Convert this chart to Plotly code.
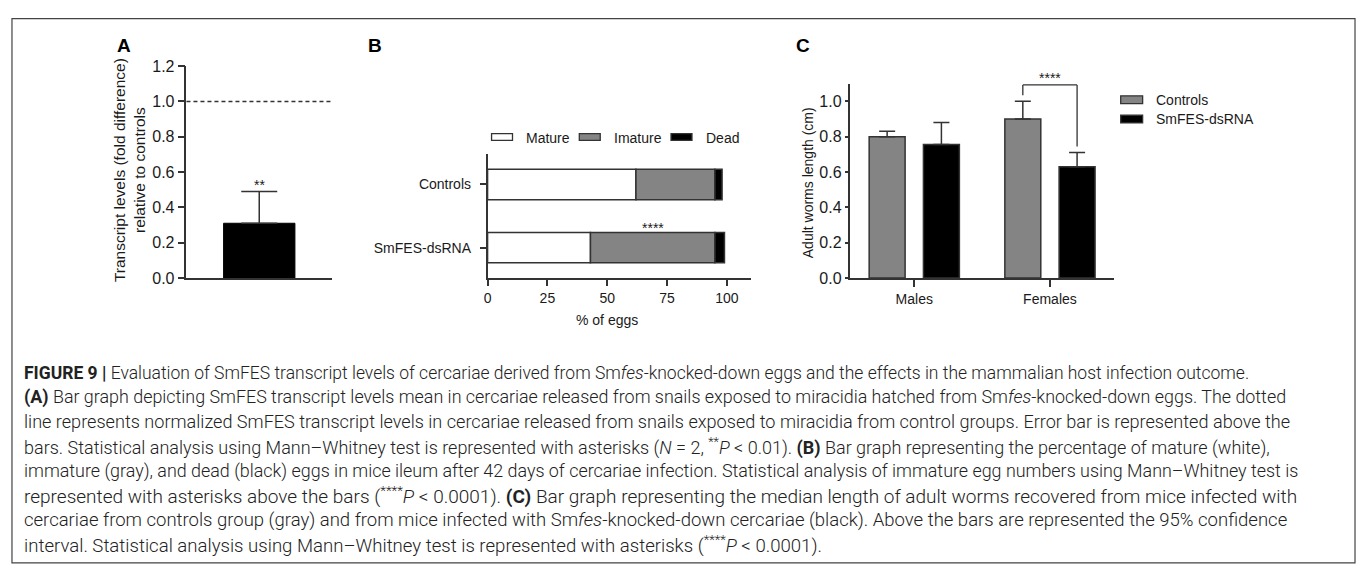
import plotly.graph_objects as go

W, H = 1358, 568


def px(x):
    return x / W


def py(y):
    return 1 - y / H


# ---------------- data ----------------
# Panel A
a_groups = ["SmFES-dsRNA"]
a_values = [0.31]
a_err = [0.18]
a_ref = 1.0
a_ticks = [0.0, 0.2, 0.4, 0.6, 0.8, 1.0, 1.2]
a_sig = "**"

# Panel B (bottom to top)
b_groups = ["SmFES-dsRNA", "Controls"]
b_series = ["Mature", "Imature", "Dead"]
b_mature = [43, 62]
b_imature = [52, 33]
b_dead = [4, 3]
b_ticks = [0, 25, 50, 75, 100]
b_sig = "****"

# Panel C
c_groups = ["Males", "Females"]
c_series = ["Controls", "SmFES-dsRNA"]
c_controls = [0.80, 0.90]
c_controls_err = [0.03, 0.10]
c_dsrna = [0.755, 0.63]
c_dsrna_err = [0.125, 0.08]
c_ticks = [0.0, 0.2, 0.4, 0.6, 0.8, 1.0]
c_sig = "****"
c_bracket = [1.035, 1.093, 0.745]  # left leg bottom, top, right leg bottom

caption = [
    "<b>FIGURE 9 |</b> Evaluation of SmFES transcript levels of cercariae derived from Sm<i>fes</i>-knocked-down eggs and the effects in the mammalian host infection outcome.",
    "<b>(A)</b> Bar graph depicting SmFES transcript levels mean in cercariae released from snails exposed to miracidia hatched from Sm<i>fes</i>-knocked-down eggs. The dotted",
    "line represents normalized SmFES transcript levels in cercariae released from snails exposed to miracidia from control groups. Error bar is represented above the",
    "bars. Statistical analysis using Mann\u2013Whitney test is represented with asterisks (<i>N</i> = 2, <sup>**</sup><i>P</i> &lt; 0.01). <b>(B)</b> Bar graph representing the percentage of mature (white),",
    "immature (gray), and dead (black) eggs in mice ileum after 42 days of cercariae infection. Statistical analysis of immature egg numbers using Mann\u2013Whitney test is",
    "represented with asterisks above the bars (<sup>****</sup><i>P</i> &lt; 0.0001). <b>(C)</b> Bar graph representing the median length of adult worms recovered from mice infected with",
    "cercariae from controls group (gray) and from mice infected with Sm<i>fes</i>-knocked-down cercariae (black). Above the bars are represented the 95% confidence",
    "interval. Statistical analysis using Mann\u2013Whitney test is represented with asterisks (<sup>****</sup><i>P</i> &lt; 0.0001).",
]

# ---------------- styles ----------------
FONT = "Liberation Sans, Arial, sans-serif"
CAP_FONT = "Roboto, Liberation Sans, sans-serif"
CAP_SIZES = [17.5, 17.9, 18.1, 18.0, 17.9, 19.0, 18.5, 18.6]
INK = "#1a1a1a"
LINE = "#333333"
GRAY = "#848484"
B_COLORS = ["#ffffff", GRAY, "#000000"]
C_COLORS = [GRAY, "#000000"]

fig = go.Figure()

# Panel A
fig.add_trace(go.Bar(
    x=a_groups, y=a_values, width=0.49,
    marker=dict(color="#000000", line=dict(color="#000000", width=1)),
    error_y=dict(type="data", symmetric=False, array=a_err, arrayminus=[0] * len(a_err),
                 color=LINE, thickness=1.5, width=18),
    xaxis="x", yaxis="y", showlegend=False,
))

# Panel B stacked horizontal bars (explicit bases)
b_vals = [b_mature, b_imature, b_dead]
bases = [[0] * len(b_groups)]
for k in range(1, len(b_vals)):
    bases.append([bases[k - 1][i] + b_vals[k - 1][i] for i in range(len(b_groups))])
for k, name in enumerate(b_series):
    fig.add_trace(go.Bar(
        y=b_groups, x=b_vals[k], base=bases[k], orientation="h", name=name,
        width=0.48, offset=-0.24,
        marker=dict(color=B_COLORS[k], line=dict(color=LINE, width=1.5)),
        xaxis="x2", yaxis="y2", showlegend=False,
    ))

# Panel C grouped bars
for vals, errs, col, off, name in [
    (c_controls, c_controls_err, C_COLORS[0], -0.3325, c_series[0]),
    (c_dsrna, c_dsrna_err, C_COLORS[1], 0.0675, c_series[1]),
]:
    fig.add_trace(go.Bar(
        x=c_groups, y=vals, name=name, width=0.265, offset=off,
        marker=dict(color=col, line=dict(color=LINE, width=1.5)),
        error_y=dict(type="data", symmetric=False, array=errs, arrayminus=[0] * len(errs),
                     color=LINE, thickness=1.5, width=8),
        xaxis="x3", yaxis="y3", showlegend=False,
    ))


def axis_common(size):
    return dict(showline=True, linecolor=LINE, linewidth=1.5, showgrid=False, zeroline=False,
                tickcolor=LINE, tickwidth=1.5, tickfont=dict(size=size, color=INK, family=FONT),
                fixedrange=True)


fig.update_layout(
    width=W, height=H, autosize=False,
    margin=dict(l=0, r=0, t=0, b=0),
    paper_bgcolor="white", plot_bgcolor="rgba(0,0,0,0)",
    barmode="overlay",
    font=dict(family=FONT, color=INK, size=14),
    showlegend=False,
    xaxis=dict(domain=[px(183), px(329)], range=[-0.5, 0.5], anchor="y",
               showticklabels=False, ticks="", **axis_common(14)),
    yaxis=dict(domain=[py(278.3), py(60)], range=[0, 1.2], anchor="x",
               tickvals=a_ticks, tickformat=".1f", ticks="outside", ticklen=7, **axis_common(16)),
    xaxis2=dict(domain=[px(485), px(749)], range=[0, 110], anchor="y2",
                tickvals=b_ticks, ticks="outside", ticklen=6, **axis_common(14)),
    yaxis2=dict(domain=[py(278.3), py(150)], range=[-0.48, 1.49], anchor="x2",
                type="category", categoryorder="array", categoryarray=b_groups,
                ticks="outside", ticklen=6, ticklabelstandoff=6, **axis_common(14)),
    xaxis3=dict(domain=[px(849), px(1113)], range=[-0.47, 1.47], anchor="y3",
                type="category", ticks="outside", ticklen=7, **axis_common(14)),
    yaxis3=dict(domain=[py(278.3), py(78)], range=[0, 1.1], anchor="x3",
                tickvals=c_ticks, tickformat=".1f", ticks="outside", ticklen=4, **axis_common(16)),
)

shapes = []
# figure frame
shapes.append(dict(type="rect", xref="paper", yref="paper", x0=px(8), x1=px(1355), y0=py(572), y1=py(11),
                   line=dict(color="#444444", width=1.2), fillcolor="rgba(0,0,0,0)", layer="below"))
# Panel A reference dotted line
shapes.append(dict(type="line", xref="x domain", yref="y", x0=0, x1=1, y0=a_ref, y1=a_ref,
                   line=dict(color=LINE, width=1.3, dash="4px,3px")))
# Panel C significance bracket (Females: Controls vs SmFES-dsRNA)
xl, xr = 1 - 0.2, 1 + 0.2
shapes += [
    dict(type="line", xref="x3", yref="y3", x0=xl, x1=xl, y0=c_bracket[0], y1=c_bracket[1], line=dict(color=LINE, width=1.3)),
    dict(type="line", xref="x3", yref="y3", x0=xl, x1=xr, y0=c_bracket[1], y1=c_bracket[1], line=dict(color=LINE, width=1.3)),
    dict(type="line", xref="x3", yref="y3", x0=xr, x1=xr, y0=c_bracket[1], y1=c_bracket[2], line=dict(color=LINE, width=1.3)),
]

annotations = []


def add_text(text, x, y, xanchor="center", yanchor="middle", size=14, **kw):
    annotations.append(dict(text=text, x=x, y=y, xref=kw.pop("xref", "paper"), yref=kw.pop("yref", "paper"),
                            xanchor=xanchor, yanchor=yanchor, showarrow=False,
                            font=dict(size=size, color=kw.pop("color", INK), family=kw.pop("family", FONT),
                                      weight=kw.pop("weight", 400)), **kw))


# panel letters
for letter, x in [("A", 120), ("B", 372), ("C", 801)]:
    add_text(letter, px(x), py(38.5), size=19, weight=700, color="#000000")

# B legend (custom swatches)
b_leg = [(489, 522), (577, 610), (669, 702)]
for k, name in enumerate(b_series):
    sx, tx = b_leg[k]
    shapes.append(dict(type="rect", xref="paper", yref="paper", x0=px(sx), x1=px(sx + 21), y0=py(136.5), y1=py(129.5),
                       fillcolor=B_COLORS[k], line=dict(color=LINE, width=1.3)))
    add_text(name, px(tx), py(133.5), xanchor="left", size=14)

# C legend
for k, name in enumerate(c_series):
    yc = 94.5 + 20 * k
    shapes.append(dict(type="rect", xref="paper", yref="paper", x0=px(1120), x1=px(1142), y0=py(yc + 4), y1=py(yc - 4),
                       fillcolor=C_COLORS[k], line=dict(color=LINE, width=1.3)))
    add_text(name, px(1153), py(yc), xanchor="left", size=14)

# axis titles
add_text("Transcript levels (fold difference)<br>relative to controls", px(126), py(167.5), textangle=-90, size=15.5)
add_text("% of eggs", px(605), py(322))
add_text("Adult worms length (cm)", px(806), py(180), textangle=-90, size=14)

# significance marks
add_text(a_sig, a_groups[0], a_values[0] + a_err[0], yanchor="bottom", xref="x", yref="y", yshift=-3)
add_text(b_sig, b_mature[0] + b_imature[0] / 2, b_groups[0], xref="x2", yref="y2", yshift=20)
add_text(c_sig, c_groups[1], c_bracket[1], yanchor="bottom", xref="x3", yref="y3", yshift=-3)

# caption
for i, line in enumerate(caption):
    add_text(line, px(18), py(376 + 25.3 * i), xanchor="left", size=CAP_SIZES[i], family=CAP_FONT,
             weight=300, color="#222222")

fig.update_layout(shapes=shapes, annotations=annotations)

fig.write_html("out.html")
